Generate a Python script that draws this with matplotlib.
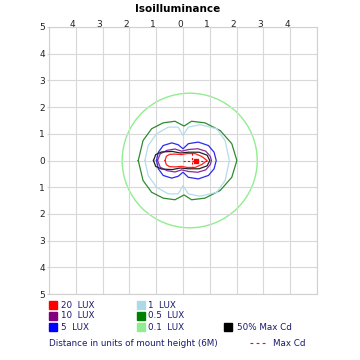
import numpy as np
import matplotlib
matplotlib.use("Agg")
import matplotlib.pyplot as plt
import matplotlib.transforms as mtransforms
from matplotlib.patches import Circle, Rectangle

# upper halves of the isolux outlines (x, y in mount heights), mirrored below
lux20_x = [-0.67, -0.62, -0.5, -0.3, -0.05, 0.15, 0.45, 0.7, 0.9]
lux20_y = [0.0, 0.16, 0.23, 0.24, 0.22, 0.26, 0.26, 0.15, 0.0]

lux10_x = [-0.95, -0.85, -0.6, -0.3, -0.05, 0.2, 0.55, 0.85, 1.02, 1.06]
lux10_y = [0.0, 0.25, 0.38, 0.43, 0.35, 0.41, 0.44, 0.35, 0.15, 0.0]

lux5_x = [-0.99, -0.92, -0.74, -0.42, -0.18, 0.0, 0.2, 0.57, 0.95, 1.16, 1.24]
lux5_y = [0.0, 0.31, 0.56, 0.66, 0.59, 0.44, 0.63, 0.69, 0.56, 0.31, 0.0]

lux1_x = [-1.42, -1.3, -0.99, -0.55, -0.18, 0.0, 0.2, 0.64, 1.26, 1.57, 1.73]
lux1_y = [0.0, 0.56, 1.0, 1.25, 1.25, 0.94, 1.25, 1.34, 1.19, 0.75, 0.0]

lux05_x = [-1.67, -1.49, -1.17, -0.74, -0.3, 0.04, 0.32, 0.82, 1.39, 1.82, 2.01]
lux05_y = [0.0, 0.75, 1.19, 1.41, 1.47, 1.29, 1.47, 1.41, 1.12, 0.63, 0.0]

lux01_center = (0.25, 0.0)
lux01_radius = 2.52

halfcd_x = [-1.1, -1.02, -0.8, -0.4, -0.1, 0.2, 0.6, 0.9, 1.0]
halfcd_y = [0.0, 0.22, 0.32, 0.34, 0.28, 0.31, 0.31, 0.2, 0.0]

maxcd_x = [0.0, 0.9]
maxcd_y = [0.0, 0.0]
maxcd_cross_x = [0.35, 0.35]
maxcd_cross_y = [0.28, -0.28]
maxcd_point = (0.5, 0.0)

legend_labels = ["20  LUX", "10  LUX", "5  LUX", "1  LUX", "0.5  LUX", "0.1  LUX", "50% Max Cd"]
legend_colors = ["#ff0000", "#800080", "#0000ff", "#add8e6", "#008000", "#90ee90", "#000000"]

ticks = [-5, -4, -3, -2, -1, 0, 1, 2, 3, 4, 5]


def closed(xs, ys):
    x = list(xs) + list(xs[::-1])
    y = list(ys) + [-v for v in ys[::-1]]
    return x, y


fig = plt.figure(figsize=(3.6, 3.6), dpi=100)
ax = fig.add_axes([49 / 360, 1 - 294 / 360, 268 / 360, 267 / 360])
ax.set_xlim(-5, 5)
ax.set_ylim(-5, 5)

ax.add_patch(Circle(lux01_center, lux01_radius, fill=False, color="#90ee90", lw=1.0))
for xs, ys, c in [(lux05_x, lux05_y, "#2f8a2f"), (lux1_x, lux1_y, "#b5dcea"),
                  (lux5_x, lux5_y, "#2b2bf0"), (lux10_x, lux10_y, "#8a2a9a"),
                  (halfcd_x, halfcd_y, "#222222"), (lux20_x, lux20_y, "#ff2020")]:
    px, py = closed(xs, ys)
    ax.plot(px, py, color=c, lw=0.9)

ax.plot(maxcd_x, maxcd_y, "--", color="red", lw=0.8, dashes=(2, 2))
ax.plot(maxcd_cross_x, maxcd_cross_y, "--", color="red", lw=0.8, dashes=(2, 2))
ax.plot(*maxcd_point, "s", color="red", ms=3)

ax.set_xticks(ticks)
ax.set_yticks(ticks)
ax.set_xticklabels(["" if abs(t) == 5 else str(abs(t)) for t in ticks])
ax.set_yticklabels([str(abs(t)) for t in ticks])
ax.xaxis.tick_top()
ax.tick_params(axis="x", length=0, pad=0)
ax.tick_params(axis="y", length=1.5, pad=1.5)
ax.tick_params(axis="both", color="#d0d0d0", labelsize=6.5, labelcolor="#222222")
ax.grid(True, color="#d8d8d8", lw=0.8)
for s in ax.spines.values():
    s.set_color("#d0d0d0")
    s.set_linewidth(0.8)

# top labels sit a little left of their grid lines and close to the frame
shift = mtransforms.ScaledTranslation(-3 / 100, -2 / 100, fig.dpi_scale_trans)
for lbl in ax.get_xticklabels():
    lbl.set_transform(lbl.get_transform() + shift)

fig.text(178 / 360, 1 - 9 / 360, "Isoilluminance", ha="center", va="center",
         fontsize=7.5, fontweight="bold")

txt_col = "#1a1a70"
sq = 8 / 360
cols = [(49, 61), (49, 61), (49, 61), (137, 148), (137, 148), (137, 148), (224, 237)]
rows = [305, 316, 327, 305, 316, 327, 327]
for lab, col, (xs, xt), yr in zip(legend_labels, legend_colors, cols, rows):
    fig.add_artist(Rectangle((xs / 360, 1 - (yr + 4) / 360), sq, sq, color=col,
                             transform=fig.transFigure))
    fig.text(xt / 360, 1 - yr / 360, lab, ha="left", va="center", fontsize=6.3, color=txt_col)

fig.text(49 / 360, 1 - 343 / 360, "Distance in units of mount height (6M)", ha="left",
         va="center", fontsize=6.3, color=txt_col)
fig.add_artist(plt.Line2D([250 / 360, 265 / 360], [1 - 343 / 360, 1 - 343 / 360],
                          transform=fig.transFigure, color="red", lw=0.8, ls="--", dashes=(2.5, 3)))
fig.text(273 / 360, 1 - 343 / 360, "Max Cd", ha="left", va="center", fontsize=6.3, color=txt_col)

fig.savefig("out.png", dpi=100)
